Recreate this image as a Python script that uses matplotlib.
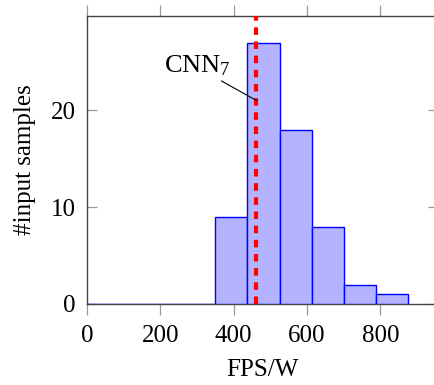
import numpy as np
import matplotlib
matplotlib.use("Agg")
import matplotlib.pyplot as plt

# 히스토그램 데이터 (FPS/W 구간별 샘플 수)
bin_width = 87.5
bin_edges = np.arange(0, 875 + 1, bin_width)
counts = [0, 0, 0, 0, 9, 27, 18, 8, 2, 1]
x_ticks = [0, 200, 400, 600, 800]
y_ticks = [0, 10, 20]
cnn7_fps_w = 461
cnn7_label = "CNN$_7$"

plt.rcParams['font.family'] = ['Liberation Serif', 'DejaVu Serif']
plt.rcParams['mathtext.fontset'] = 'custom'
plt.rcParams['mathtext.rm'] = 'Liberation Serif'
plt.rcParams['mathtext.default'] = 'regular'
plt.rcParams['font.size'] = 18

fig = plt.figure(figsize=(4.35, 3.85), dpi=100)
ax = fig.add_axes([0.2, 0.2104, 0.807, 0.748])

# 막대 그리기
ax.bar(bin_edges[:-1], counts, width=bin_width, align='edge',
       facecolor='#b3b3ff', edgecolor='#0000ff', linewidth=1.0, zorder=3)

# CNN7 기준선
ax.axvline(cnn7_fps_w, color='#ff0000', linewidth=3.0, dashes=(1.8, 1.6), zorder=4)
ax.annotate(cnn7_label, xy=(cnn7_fps_w + 2, 21.0), xytext=(302, 24.6),
            ha='center', va='center', fontsize=19,
            arrowprops=dict(arrowstyle='-', color='black', lw=0.8,
                            shrinkA=0, shrinkB=0, relpos=(0.78, 0.0)),
            zorder=5)

ax.set_xlim(0, 957)
ax.set_ylim(0, 29.75)
ax.set_xticks(x_ticks)
ax.set_yticks(y_ticks)

for s in ax.spines.values():
    s.set_color('#444444')
    s.set_linewidth(1.0)

ax.tick_params(axis='x', direction='out', length=8, width=0.9, color='#999999',
               top=True, bottom=True, labeltop=False, pad=7)
ax.tick_params(axis='y', direction='in', length=7, width=0.9, color='#999999',
               left=True, right=True, pad=8)

ax.set_xlabel("FPS/W", labelpad=9)
ax.set_ylabel("#input samples", labelpad=11)

fig.savefig("out.png", dpi=100)
